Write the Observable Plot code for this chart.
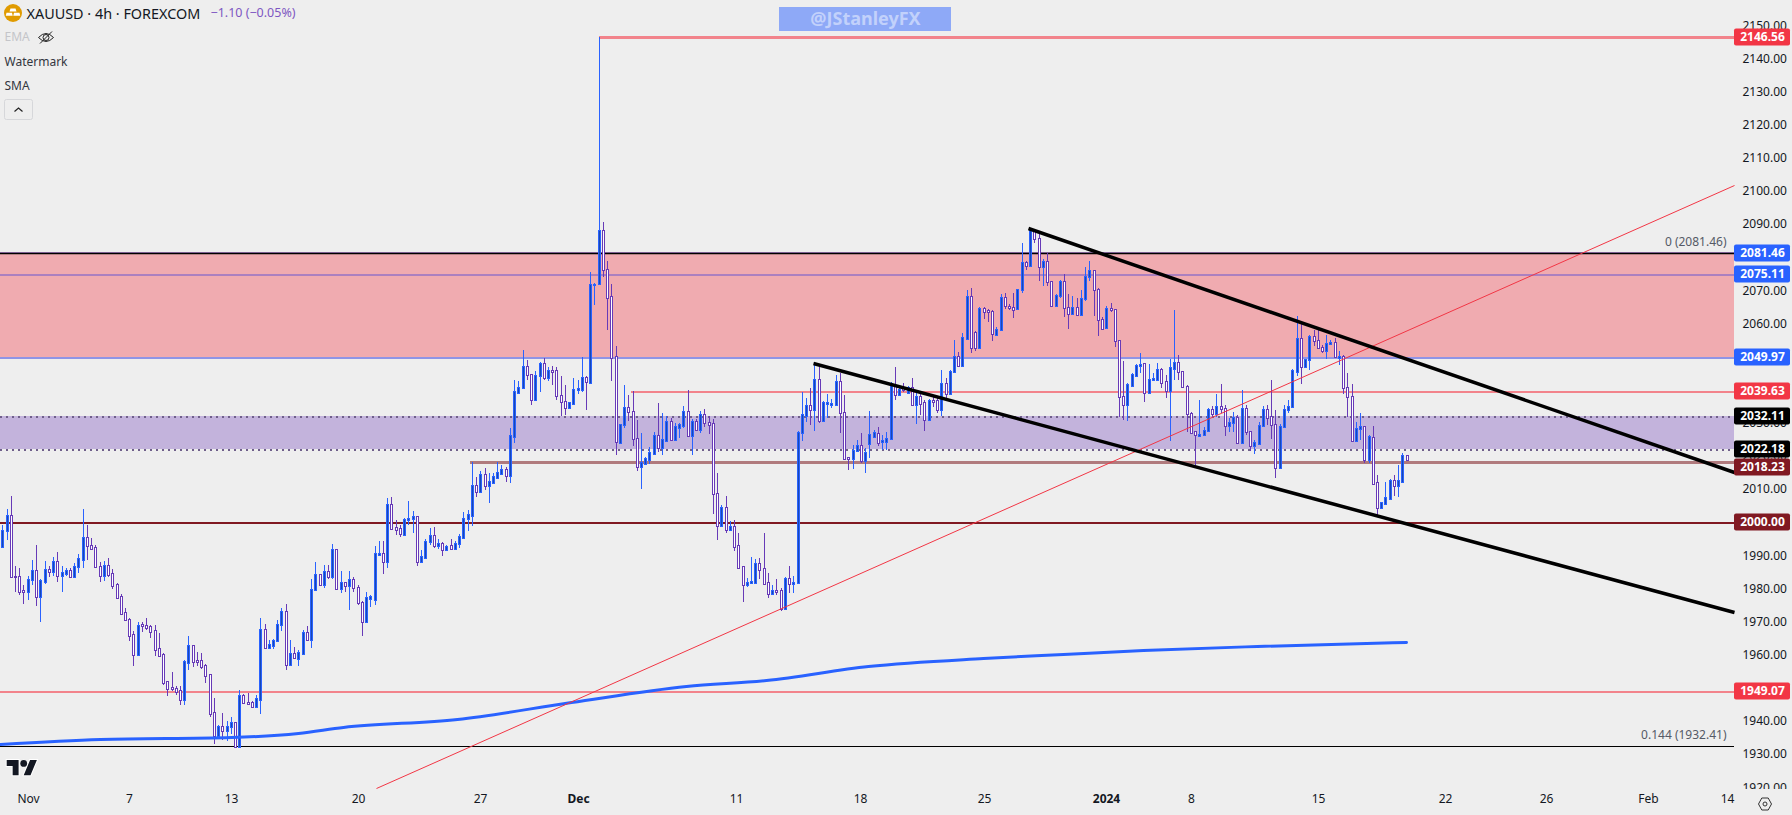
<!DOCTYPE html>
<html>
<head>
<meta charset="utf-8">
<title>XAUUSD 4h</title>
<script src="https://cdn.jsdelivr.net/npm/d3@7"></script>
<script src="https://cdn.jsdelivr.net/npm/@observablehq/plot@0.6"></script>
<style>
html,body{margin:0;padding:0;background:#eeeeee;overflow:hidden}
svg{display:block}
</style>
</head>
<body>
<div id="chart"></div>
<script>
const opens = [
1992.9,1997.6,2002.4,1983.9,1983.7,1979.5,1979.2,1982.8,1985.8,1977.9,
1982.4,1986.1,1985.4,1988.3,1984.2,1984.8,1985.8,1983.9,1987.0,1989.1,
1995.5,1993.1,1992.5,1987.0,1984.2,1987.3,1984.6,1981.3,1977.7,1972.9,
1971.0,1966.2,1960.4,1969.3,1969.2,1968.6,1967.4,1962.0,1960.3,1952.0,
1950.2,1949.9,1949.3,1946.8,1958.0,1962.9,1958.4,1958.4,1956.9,1954.2,
1942.7,1935.8,1938.7,1937.5,1938.7,1939.7,1932.6,1947.8,1945.9,1945.7,
1944.6,1946.8,1967.7,1962.5,1963.1,1964.4,1969.4,1973.2,1957.4,1960.5,
1959.2,1960.7,1966.8,1964.9,1979.8,1984.3,1981.3,1985.2,1983.7,1991.9,
1980.3,1981.9,1981.0,1982.8,1980.4,1976.0,1970.2,1977.3,1977.0,1990.4,
1990.7,1988.5,2005.5,1998.5,1998.2,1996.6,2001.1,2001.2,2001.9,1988.5,
1989.7,1994.3,1996.1,1993.3,1993.7,1992.1,1993.1,1992.4,1993.7,1995.7,
2001.2,2002.4,2011.2,2009.6,2014.5,2011.4,2012.3,2013.8,2015.0,2016.0,
2014.4,2026.2,2039.5,2040.8,2047.1,2044.7,2037.4,2044.4,2048.0,2044.0,
2045.9,2045.9,2038.4,2036.6,2035.0,2036.2,2040.3,2040.3,2043.8,2042.4,
2071.9,2072.2,2088.2,2076.4,2068.3,2050.2,2024.4,2029.6,2034.8,2033.6,
2025.4,2017.0,2018.0,2019.3,2021.1,2026.3,2022.9,2025.0,2030.5,2025.3,
2028.9,2029.5,2033.6,2026.5,2030.5,2028.3,2032.6,2030.4,2029.9,2008.8,
1999.3,2004.6,1998.1,1998.8,1993.1,1986.8,1981.5,1981.9,1982.1,1987.7,
1986.2,1981.9,1978.8,1979.5,1979.5,1974.2,1983.1,1981.8,1981.9,2027.4,
2032.5,2035.4,2034.1,2043.2,2031.0,2036.1,2035.9,2035.9,2042.6,2033.2,
2019.7,2019.6,2021.8,2023.4,2019.0,2024.1,2026.1,2027.1,2024.5,2024.6,
2025.6,2041.6,2038.8,2040.8,2039.5,2041.0,2035.9,2038.2,2036.3,2031.1,
2036.9,2037.0,2034.1,2042.0,2039.0,2045.8,2050.1,2047.6,2055.6,2068.5,
2057.4,2052.9,2064.6,2064.1,2063.9,2056.9,2058.3,2068.0,2065.4,2065.1,
2064.6,2070.4,2078.5,2077.7,2088.3,2085.8,2077.4,2078.8,2072.9,2065.5,
2068.8,2072.9,2064.9,2063.1,2064.9,2062.8,2067.9,2074.4,2076.1,2070.5,
2061.3,2058.9,2064.6,2064.3,2055.0,2038.1,2035.9,2041.6,2044.6,2047.4,
2048.0,2039.3,2043.3,2043.4,2046.3,2042.6,2040.0,2046.6,2048.3,2045.6,
2041.3,2032.9,2027.6,2026.5,2026.6,2027.8,2034.1,2033.1,2035.3,2034.7,
2029.3,2030.2,2031.9,2024.3,2034.7,2027.5,2023.5,2024.1,2029.5,2034.1,
2032.0,2029.8,2016.8,2029.1,2034.1,2035.1,2045.8,2055.8,2047.3,2049.2,
2056.3,2055.2,2053.1,2052.1,2054.3,2054.6,2050.0,2050.3,2041.0,2038.2,
2024.9,2028.4,2029.0,2019.2,2025.9,2012.1,2004.7,2005.9,2007.5,2012.7,
2011.3,2012.6,2020.5];
const closes = [
1997.6,2002.4,1983.9,1983.7,1979.4,1979.2,1982.8,1985.8,1977.9,1982.5,
1986.1,1985.5,1988.3,1984.2,1984.9,1985.8,1983.9,1987.0,1989.2,1995.5,
1993.1,1992.4,1986.9,1984.2,1987.3,1984.5,1981.2,1977.6,1972.8,1971.0,
1966.1,1960.4,1969.2,1969.1,1968.5,1967.3,1961.9,1960.1,1951.9,1950.1,
1950.0,1949.2,1946.8,1958.1,1962.9,1958.3,1958.2,1956.8,1954.0,1942.6,
1935.8,1938.7,1937.5,1938.7,1939.7,1932.6,1947.8,1945.8,1945.6,1944.7,
1946.9,1967.7,1962.5,1963.3,1964.4,1969.5,1973.2,1957.4,1960.5,1959.3,
1960.8,1966.8,1964.9,1979.8,1984.3,1981.3,1985.2,1983.7,1991.9,1980.3,
1981.9,1981.0,1982.8,1980.4,1975.9,1970.2,1977.4,1977.8,1990.7,1990.7,
1988.5,2005.5,1998.4,1998.1,1996.7,2001.0,2001.4,2001.9,1988.5,1989.8,
1994.3,1996.1,1993.3,1993.7,1992.1,1993.0,1992.4,1993.7,1995.8,2001.3,
2002.5,2011.2,2009.6,2014.5,2011.4,2012.4,2013.9,2015.1,2016.0,2014.4,
2026.3,2039.6,2040.8,2047.1,2044.7,2037.4,2044.4,2048.0,2044.0,2045.9,
2045.8,2038.4,2036.6,2035.0,2036.3,2040.2,2040.5,2043.8,2042.6,2071.9,
2072.1,2088.3,2076.4,2068.2,2050.0,2024.5,2029.7,2034.8,2033.5,2025.4,
2017.0,2018.2,2019.4,2021.2,2026.3,2022.9,2025.1,2030.5,2025.2,2029.0,
2029.7,2033.6,2026.5,2030.5,2028.3,2032.6,2030.4,2029.8,2008.8,1999.3,
2004.6,1998.1,1998.8,1993.0,1986.7,1981.5,1982.0,1982.2,1987.7,1986.1,
1981.8,1978.8,1979.5,1979.4,1974.2,1983.1,1981.8,1982.0,2027.4,2032.6,
2035.4,2034.1,2043.2,2031.0,2036.3,2036.3,2036.1,2042.6,2033.2,2019.6,
2019.6,2021.8,2023.3,2019.0,2021.4,2026.7,2027.2,2024.4,2024.9,2025.6,
2042.0,2038.8,2040.2,2040.3,2041.0,2035.9,2038.2,2036.2,2031.1,2036.9,
2036.8,2034.1,2042.0,2039.0,2045.8,2050.1,2047.6,2055.9,2068.5,2052.9,
2052.9,2064.6,2063.9,2063.9,2057.1,2058.3,2068.0,2065.6,2065.1,2064.5,
2070.4,2078.5,2077.7,2088.5,2085.8,2077.4,2078.9,2072.9,2065.5,2068.8,
2072.9,2064.9,2063.1,2064.9,2062.8,2067.9,2074.4,2076.1,2070.5,2061.3,
2058.8,2064.6,2064.4,2055.0,2038.1,2035.9,2041.7,2044.7,2047.4,2047.9,
2039.3,2043.2,2043.5,2046.2,2042.5,2040.0,2046.8,2048.3,2045.6,2041.3,
2032.9,2027.3,2026.6,2026.7,2027.8,2034.1,2033.1,2035.3,2034.6,2029.3,
2030.2,2031.7,2024.3,2034.7,2027.6,2023.5,2024.2,2029.5,2034.1,2031.9,
2029.8,2016.8,2029.1,2034.1,2035.1,2045.9,2055.8,2047.3,2049.2,2056.3,
2055.2,2053.0,2052.1,2054.3,2054.6,2050.2,2050.2,2041.0,2038.2,2024.9,
2028.4,2029.0,2019.2,2026.1,2011.9,2004.7,2006.1,2007.6,2012.8,2011.3,
2012.7,2020.5,2019.2];
const highs = [
1999.2,2004.0,2008.0,1986.8,1986.2,1981.1,1983.8,1988.7,1993.2,1982.9,
1988.4,1986.8,1989.5,1991.1,1986.8,1986.4,1986.2,1987.8,1990.5,2004.0,
1999.2,1995.3,1993.2,1988.2,1988.4,1989.3,1985.9,1981.6,1978.3,1974.2,
1971.1,1967.1,1969.9,1969.9,1971.2,1969.1,1969.0,1966.6,1960.5,1952.0,
1954.9,1950.6,1950.6,1958.4,1965.7,1963.0,1960.9,1960.6,1957.2,1954.3,
1947.0,1938.9,1942.5,1940.0,1941.2,1939.8,1949.4,1948.2,1948.4,1946.1,
1947.9,1971.2,1969.3,1964.5,1964.8,1970.5,1974.1,1975.4,1964.5,1962.3,
1961.5,1967.5,1968.7,1982.9,1988.0,1984.3,1987.2,1987.2,1993.5,1991.9,
1985.2,1981.9,1985.2,1983.5,1981.1,1976.2,1979.0,1978.1,1992.9,1994.4,
1994.4,2007.4,2007.7,2000.7,1999.2,2001.3,2006.4,2003.5,2002.0,1991.7,
1994.9,1998.2,1998.6,1994.9,1994.1,1993.1,1995.0,1994.5,1996.5,2003.2,
2003.8,2018.4,2013.7,2015.5,2016.4,2014.8,2014.9,2018.3,2017.3,2016.8,
2028.5,2043.0,2042.7,2052.1,2049.0,2044.7,2045.7,2048.4,2049.6,2046.9,
2047.2,2046.9,2044.2,2041.5,2036.4,2043.6,2043.0,2050.0,2044.1,2075.6,
2072.3,2146.56,2090.7,2078.8,2072.0,2053.3,2029.7,2041.5,2038.5,2039.7,
2030.9,2027.0,2019.7,2022.7,2027.2,2036.1,2033.0,2032.2,2031.4,2029.9,
2030.1,2035.2,2039.9,2031.1,2031.1,2033.7,2034.2,2032.1,2031.2,2014.8,
2005.3,2008.0,2000.4,2000.6,1996.7,1986.9,1983.3,1989.5,1988.9,1989.2,
1996.7,1984.8,1981.0,1982.9,1980.2,1983.4,1986.8,1983.7,2027.6,2039.3,
2037.5,2040.5,2048.2,2046.8,2036.7,2038.7,2037.3,2044.4,2045.0,2038.5,
2019.7,2023.4,2024.8,2027.1,2022.4,2033.6,2027.9,2028.9,2026.4,2027.4,
2042.3,2046.9,2040.5,2042.0,2041.2,2043.6,2039.5,2039.5,2037.0,2037.4,
2038.0,2037.5,2046.0,2043.5,2046.0,2055.1,2051.4,2057.3,2070.2,2070.7,
2057.9,2064.9,2065.1,2064.3,2064.1,2058.9,2069.0,2069.2,2065.8,2069.2,
2070.6,2084.5,2078.9,2088.8,2088.6,2088.1,2079.4,2081.4,2073.0,2068.9,
2073.2,2074.9,2068.9,2068.3,2067.9,2070.2,2077.0,2078.9,2076.2,2070.8,
2062.1,2065.3,2066.1,2064.4,2055.1,2048.7,2042.0,2045.0,2047.8,2051.0,
2048.2,2047.8,2045.2,2048.2,2046.5,2044.5,2049.2,2064.1,2050.5,2045.8,
2041.4,2033.4,2027.7,2036.9,2028.7,2034.4,2035.1,2038.7,2041.9,2035.5,
2031.4,2033.4,2032.4,2040.1,2035.4,2027.6,2025.0,2030.4,2035.1,2035.4,
2043.0,2033.9,2029.7,2035.4,2037.1,2046.2,2062.3,2060.3,2049.3,2056.5,
2058.0,2058.5,2053.5,2056.5,2055.0,2055.7,2051.7,2050.5,2045.0,2041.9,
2030.4,2032.9,2029.2,2026.4,2029.1,2014.3,2006.3,2012.3,2013.1,2014.3,
2017.3,2021.1,2020.5];
const lows = [
1992.6,1994.7,1983.6,1979.1,1978.1,1975.4,1976.6,1981.1,1974.8,1969.9,
1981.3,1983.5,1983.8,1982.0,1979.0,1983.8,1983.2,1983.8,1984.8,1986.2,
1988.7,1991.7,1986.8,1982.0,1982.3,1983.5,1979.8,1977.5,1972.7,1970.9,
1964.2,1956.7,1960.4,1966.9,1967.5,1965.1,1959.7,1960.0,1950.9,1947.6,
1949.1,1947.9,1944.9,1944.9,1955.5,1956.4,1956.7,1955.9,1951.5,1941.3,
1933.1,1934.8,1934.3,1934.1,1936.1,1932.4,1932.4,1945.2,1944.8,1944.1,
1944.4,1942.2,1961.9,1962.5,1961.9,1964.2,1967.2,1955.5,1957.4,1959.3,
1956.7,1960.7,1964.9,1962.2,1979.3,1980.9,1980.2,1982.9,1983.0,1979.6,
1978.8,1979.0,1973.6,1979.0,1975.1,1965.7,1969.8,1974.5,1975.0,1989.9,
1984.5,1986.3,1998.0,1996.2,1995.6,1995.9,1999.2,1996.8,1986.9,1988.5,
1989.7,1993.2,1992.3,1992.0,1989.9,1992.1,1992.1,1991.7,1992.3,1995.6,
1997.4,1999.0,2007.7,2009.5,2009.8,2005.9,2012.2,2013.4,2014.2,2012.2,
2011.9,2024.0,2039.5,2040.8,2043.0,2035.5,2037.4,2039.4,2043.0,2042.7,
2041.5,2037.0,2032.1,2032.4,2034.8,2036.2,2038.8,2039.3,2034.0,2042.1,
2065.6,2072.2,2074.2,2058.1,2042.7,2020.5,2024.0,2028.6,2030.7,2023.2,
2015.6,2010.1,2017.7,2017.5,2020.7,2021.2,2020.5,2025.0,2024.6,2025.3,
2025.5,2028.6,2025.7,2020.4,2028.3,2026.9,2028.9,2026.7,2002.6,1994.7,
1999.2,1996.8,1997.7,1991.4,1986.6,1976.0,1980.6,1981.8,1982.0,1982.9,
1981.8,1977.3,1978.7,1978.0,1973.3,1973.7,1978.8,1978.7,1981.8,2024.6,
2030.2,2029.4,2027.6,2029.9,2030.9,2031.6,2034.4,2035.8,2027.1,2019.5,
2015.9,2016.1,2021.8,2018.0,2015.0,2019.4,2025.7,2023.1,2021.9,2021.9,
2025.5,2037.0,2038.3,2039.5,2039.3,2035.8,2029.7,2032.4,2027.7,2030.9,
2034.8,2032.9,2032.2,2037.0,2038.9,2045.8,2047.2,2047.6,2055.5,2051.2,
2051.9,2052.8,2061.3,2060.6,2054.9,2056.9,2058.1,2064.3,2064.1,2061.8,
2064.5,2069.2,2076.2,2077.6,2084.5,2073.0,2071.4,2071.4,2065.1,2065.3,
2067.8,2062.1,2058.5,2062.9,2062.6,2062.6,2066.7,2072.9,2062.4,2056.4,
2058.1,2058.8,2063.6,2053.1,2031.9,2030.9,2030.7,2041.5,2044.5,2045.0,
2036.5,2039.2,2042.8,2043.3,2040.7,2037.6,2024.6,2043.0,2043.0,2041.2,
2027.4,2027.1,2017.3,2025.9,2026.5,2027.7,2031.7,2031.7,2032.9,2026.1,
2027.3,2027.4,2024.1,2024.2,2026.5,2021.6,2020.6,2024.0,2028.8,2029.4,
2025.3,2013.5,2016.8,2028.9,2032.9,2035.0,2044.2,2041.7,2046.5,2046.0,
2053.3,2052.3,2051.2,2049.3,2054.0,2050.1,2047.5,2038.7,2031.7,2024.3,
2024.8,2024.8,2017.8,2018.0,2011.7,2001.9,2004.5,2005.8,2007.3,2008.1,
2007.8,2012.0,2019.2];

// Moving average (bar position, price)
const smaBars   = [-0.5,23,54,70,80.5,107.5,134.5,161.6,180.5,204.6,231.8,250.7,269.7,296.6,331.8];
const smaPrices = [1933.1,1934.7,1935.1,1936.4,1938.3,1940.7,1945.9,1950.7,1952.5,1956.7,1959.1,1960.3,1961.5,1962.7,1963.8];

// Drawn trend lines: [barStart, priceStart, barEnd, priceEnd]
const channelTop    = [242.6, 2088.97, 409.4, 2015.3];
const channelBottom = [191.7, 2048.2, 409.4, 1972.9];
const risingLine    = [88.3, 1919.9, 409.4, 2101.9];

// Horizontal levels
const levelValues = [2146.56,2081.46,2075.11,2049.97,2039.63,2032.11,2022.18,2018.23,2000.00,1949.07];
const badgePrices = [2146.56,2081.46,2075.11,2049.97,2039.63,2032.11,2022.18,2016.87,2000.00,1949.07];
const badgeColors = ["#f23645","#2962ff","#2962ff","#2962ff","#f23645","#000000","#000000","#801922","#801922","#f23645"];

const priceTicks = d3.range(1920, 2151, 10);
const timeBars   = [6,30,54,84,113,173.5,202.7,232,281,311,341,365,389,407.7];
const timeLabels = ["Nov","7","13","20","27","11","18","25","8","15","22","26","Feb","14"];
const boldBars   = [136,261];
const boldLabels = ["Dec","2024"];

const xMin = -0.55, xMax = 409.4, xBadge = 422.64, xBadgeText = 416;
const bg = "#eeeeee";
const uiFont = '"Noto Sans", sans-serif';

const bars = opens.map((o,i)=>({i,o,h:highs[i],l:lows[i],c:closes[i],up:closes[i]>=o}));
const badges = levelValues.map((v,k)=>({label:v.toFixed(2),y:badgePrices[k],color:badgeColors[k]}));

function hline(value, stroke, strokeWidth, from=xMin, extra={}) {
  return Plot.ruleY([value], {x1:from, x2:xMax, stroke, strokeWidth, ...extra});
}
function seg(s, stroke, strokeWidth) {
  return Plot.line([[s[0],s[1]],[s[2],s[3]]], {x:d=>d[0], y:d=>d[1], stroke, strokeWidth, strokeLinecap:"butt"});
}
function icons() {
  const g = d3.create("svg:g");
  // gold symbol
  g.append("circle").attr("cx",13).attr("cy",13).attr("r",9).attr("fill","#e09b00");
  g.append("path").attr("fill","#fff").attr("d","M10.5 8.5h5l1 3h-7zM6.5 12.8h5.5l.7 3H5.8zM14 12.8h5.5l.7 3h-6.9z");
  // eye
  const e = g.append("g").attr("fill","none").attr("stroke","#222").attr("stroke-width",1);
  e.append("path").attr("d","M38.5 37.5q7.5-8 15 0q-7.5 8-15 0z");
  e.append("circle").attr("cx",46).attr("cy",37.5).attr("r",3);
  e.append("path").attr("d","M40 43.5L52 31.5");
  // collapse button
  g.append("rect").attr("x",4.5).attr("y",99.5).attr("width",28).attr("height",20).attr("rx",2)
    .attr("fill","none").attr("stroke","#d6d7da");
  g.append("path").attr("d","M14.5 111.5l4-3.5l4 3.5").attr("fill","none").attr("stroke","#222").attr("stroke-width",1.2);
  // TradingView mark
  g.append("path").attr("transform","translate(6.7,756.6) scale(.85)")
    .attr("d","M14 22H7V11H0V4h14v18zM28 22h-8l7.5-18h8L28 22z")
    .attr("fill","#131722").attr("stroke","#fff").attr("stroke-width",2.4).attr("paint-order","stroke");
  g.append("circle").attr("cx",23.7).attr("cy",763.4).attr("r",3.4).attr("fill","#131722").attr("stroke","#fff").attr("stroke-width",1).attr("paint-order","stroke");
  // settings
  const s = g.append("g").attr("fill","none").attr("stroke","#333").attr("stroke-width",1);
  s.append("path").attr("d","M1758.5 804l3.3-6h6.4l3.3 6l-3.3 6h-6.4z");
  s.append("circle").attr("cx",1765).attr("cy",804).attr("r",2);
  return g.node();
}

const plot = Plot.plot({
  width:1792, height:815, marginTop:0, marginBottom:27, marginLeft:0, marginRight:58,
  style:{background:bg, fontFamily:uiFont, fontSize:"12px"},
  x:{domain:[xMin,xMax], range:[0,1734], round:true, axis:null},
  y:{domain:[1919.85,2157.7], range:[788,0], round:true, axis:null},
  marks:[
    // zones
    Plot.rect([[2049.97,2081.46]],{x1:xMin,x2:xMax,y1:d=>d[0],y2:d=>d[1],fill:"#f0abb0"}),
    Plot.rect([[2022.18,2032.11]],{x1:xMin,x2:xMax,y1:d=>d[0],y2:d=>d[1],fill:"#c3b3dc"}),
    hline(2032.11,"#6f5f8a",2,xMin,{strokeDasharray:"2,4",dy:0.5}),
    hline(2022.18,"#6f5f8a",2,xMin,{strokeDasharray:"2,4",dy:0.5}),
    hline(2081.46,"#a57fbf",1,xMin,{dy:-1}),
    hline(2081.46,"#000000",1.5),
    hline(2075.11,"#ab80c0",2,xMin,{dy:0.5}),
    hline(2049.97,"#8f94e6",2,xMin,{dy:0.5}),
    hline(2146.56,"#f2838b",3,141),
    hline(2039.63,"#f2838b",2,148.6,{dy:0.5}),
    hline(2018.23,"#b07a7d",3,110.6),
    hline(2000,"#801922",2,xMin,{dy:0.5}),
    hline(1949.07,"#f2838b",2,xMin,{dy:0.5}),
    hline(1932.41,"#000000",1),
    // candles
    Plot.ruleX(bars,{x:"i",y1:"l",y2:"h",stroke:d=>d.up?"#2962ff":"#673ab7",strokeWidth:1}),
    Plot.rect(bars,{x1:"i",x2:"i",y1:"o",y2:"c",insetLeft:-1,insetRight:-1,insetBottom:-1,dx:0.5,dy:0.5,
      fill:d=>d.up?"#1848b4":"#ffffff",stroke:d=>d.up?"#2962ff":"#673ab7",strokeWidth:1}),
    // overlays
    Plot.line(smaBars.map((b,k)=>[b,smaPrices[k]]),{x:d=>d[0],y:d=>d[1],stroke:"#2962ff",strokeWidth:3,curve:"monotone-x"}),
    seg(risingLine,"#f23645",1),
    seg(channelTop,"#000000",3.5),
    seg(channelBottom,"#000000",3.5),
    // price axis
    Plot.axisY({anchor:"right",ticks:priceTicks,tickSize:0,tickPadding:8,tickFormat:d3.format(".2f"),label:null,fill:"#131722",fontSize:12}),
    Plot.rect([[1919.6,1911]],{x1:xMax,x2:xBadge+2,y1:d=>d[0],y2:d=>d[1],fill:bg}),
    // time axis
    Plot.axisX({anchor:"bottom",ticks:timeBars,tickFormat:(d)=>timeLabels[timeBars.indexOf(d)],tickSize:0,tickPadding:6,label:null,fill:"#131722",fontSize:12}),
    Plot.axisX({anchor:"bottom",ticks:boldBars,tickFormat:(d)=>boldLabels[boldBars.indexOf(d)],tickSize:0,tickPadding:6,label:null,fill:"#131722",fontSize:12,fontWeight:"bold"}),
    // level badges
    Plot.rect(badges,{x1:xMax,x2:xBadge,y1:"y",y2:"y",insetTop:-8.5,insetBottom:-8.5,fill:"color",rx:2}),
    Plot.text(badges,{x:xBadgeText,y:"y",text:"label",fill:"#ffffff",fontWeight:"bold",fontSize:12}),
    // fib labels
    Plot.text([{y:2081.46,t:"0 (2081.46)"}],{x:407.4,y:"y",text:"t",textAnchor:"end",dy:-11,fill:"#555a66",fontSize:12}),
    Plot.text([{y:1932.41,t:"0.144 (1932.41)"}],{x:407.4,y:"y",text:"t",textAnchor:"end",dy:-11,fill:"#555a66",fontSize:12}),
    // legend text
    Plot.text(["XAUUSD · 4h · FOREXCOM"],{frameAnchor:"top-left",dx:26,dy:8,fill:"#131722",fontSize:14.4,lineAnchor:"top"}),
    Plot.text(["−1.10 (−0.05%)"],{frameAnchor:"top-left",dx:210,dy:8,fill:"#7e57c2",fontSize:12.5,lineAnchor:"top"}),
    Plot.text(["EMA"],{frameAnchor:"top-left",dx:4,dy:32,fill:"#c4c5c9",fontSize:12,lineAnchor:"top"}),
    Plot.text(["Watermark"],{frameAnchor:"top-left",dx:4,dy:56.5,fill:"#333640",fontSize:12,lineAnchor:"top"}),
    Plot.text(["SMA"],{frameAnchor:"top-left",dx:4,dy:81,fill:"#333640",fontSize:12,lineAnchor:"top"}),
    // watermark
    Plot.rect([[183.6,224.3]],{x1:d=>d[0],x2:d=>d[1],y1:2155.6,y2:2148.3,fill:"#8ea9f7"}),
    Plot.text(["@JStanleyFX"],{x:204,y:2152.0,fill:"#c2d1fb",fontSize:18,fontWeight:"bold"}),
    icons
  ]
});
document.getElementById("chart").append(plot);
</script>
</body>
</html>
